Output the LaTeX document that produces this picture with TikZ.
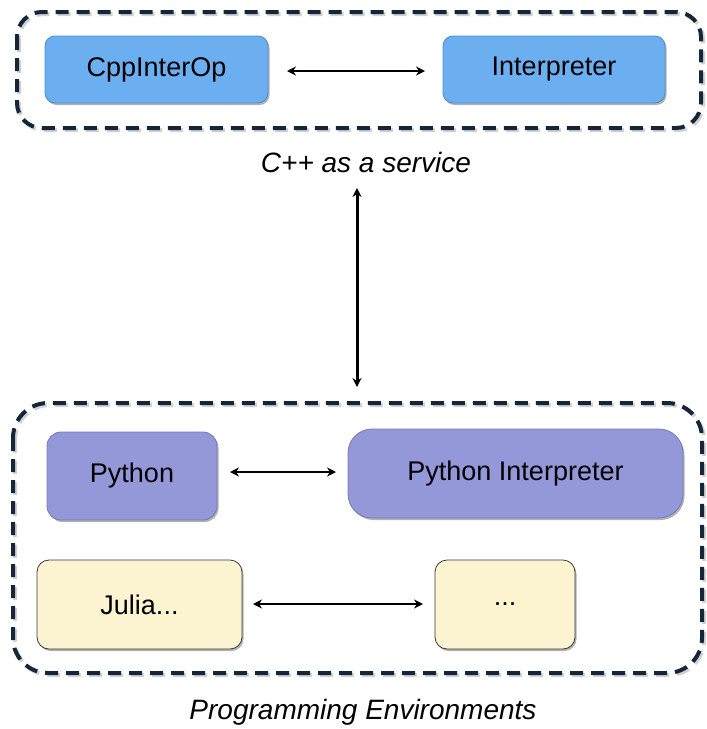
\documentclass[tikz,border=0pt]{standalone}
\usepackage{fontspec}
\setmainfont{Liberation Sans}
\usetikzlibrary{arrows.meta,shadows}
\definecolor{frameline}{HTML}{14263A}
\definecolor{bluefill}{HTML}{6CAFF0}
\definecolor{blueline}{HTML}{4C8BCB}
\definecolor{purplefill}{HTML}{9598D8}
\definecolor{purpleline}{HTML}{6F7CB8}
\definecolor{creamfill}{HTML}{FCF3D0}
\definecolor{creamline}{HTML}{3A3A3A}
\tikzset{
  frame/.style={draw=frameline, line width=4pt, dash pattern=on 13pt off 8pt},
  frameshadow/.style={draw=black!35, opacity=0.5, line width=4pt, dash pattern=on 13pt off 8pt},
  boxshadow/.style={drop shadow={shadow xshift=1.5pt, shadow yshift=-2pt, opacity=0.3, fill=black}},
  box/.style={boxshadow, line width=0.8pt, align=center,
    font=\fontsize{27}{32}\selectfont},
  bluebox/.style={box, draw=blueline, fill=bluefill, rounded corners=10pt},
  purplebox/.style={box, draw=purpleline, fill=purplefill, rounded corners=14pt},
  creambox/.style={box, draw=creamline, fill=creamfill, rounded corners=12pt},
  link/.style={line width=2pt, {Stealth[length=9pt,width=9pt]}-{Stealth[length=9pt,width=9pt]}},
  caption/.style={font=\fontsize{28}{33}\selectfont\itshape}
}
\begin{document}
\begin{tikzpicture}[x=1pt,y=-1pt]
\useasboundingbox (0,0) rectangle (707,729);

% C++ as a service container
\draw[frameshadow, rounded corners=25pt] (19,14) rectangle (703,130);
\draw[frame, rounded corners=25pt] (17,12) rectangle (701,128);
\node[bluebox, minimum width=223pt, minimum height=67pt] (cppinterop) at (156.5,69.5) {CppInterOp};
\node[bluebox, minimum width=222pt, minimum height=67pt] (interp) at (554,69.5) {Interpreter};
\coordinate (ta) at (287,71);
\coordinate (tb) at (425,71);
\draw[link] (ta) -- (tb);
\node[caption] (service) at (366,162) {C++ as a service};

% link between the two layers
\coordinate (va) at (357,188);
\coordinate (vb) at (357,387);
\draw[link, line width=3pt] (va) -- (vb);

% Programming environments container
\draw[frameshadow, rounded corners=35pt] (15,405) rectangle (704,675);
\draw[frame, rounded corners=35pt] (13,403) rectangle (702,673);
\node[purplebox, minimum width=170pt, minimum height=88pt] (python) at (132,476) {Python};
\node[purplebox, rounded corners=24pt, minimum width=335pt, minimum height=89pt] (pyinterp) at (515.5,473.5) {Python Interpreter};
\coordinate (pa) at (230,472);
\coordinate (pb) at (336,472);
\draw[link] (pa) -- (pb);
\node[creambox, minimum width=205pt, minimum height=89pt] (julia) at (139.5,604.5) {Julia...};
\node[creambox, minimum width=140pt, minimum height=89pt] (more) at (505,604.5) {...};
\coordinate (ja) at (253,604);
\coordinate (jb) at (423,604);
\draw[link] (ja) -- (jb);
\node[caption] (envs) at (363,712) {Programming Environments};
\end{tikzpicture}
\end{document}
